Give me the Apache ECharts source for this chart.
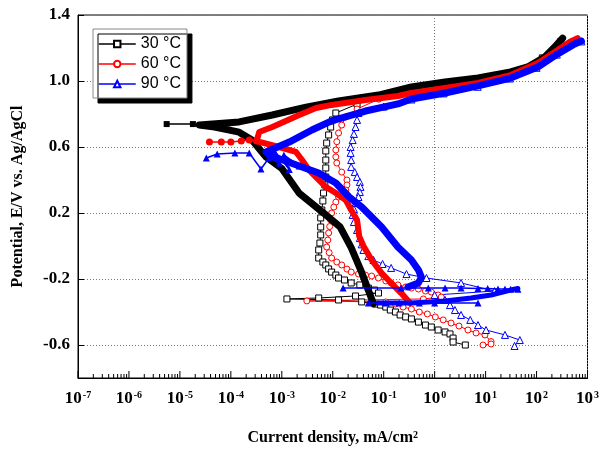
<!DOCTYPE html>
<html><head><meta charset="utf-8">
<script src="https://cdn.jsdelivr.net/npm/echarts@6/dist/echarts.min.js"></script>
<style>html,body{margin:0;padding:0;background:#fff}#c{width:602px;height:452px}</style>
</head><body><div id="c"></div>
<script>
// ---- tick labels ----
const yTicks = [-0.6, -0.2, 0.2, 0.6, 1.0, 1.4];
const xMajor = [1e-7, 1e-6, 1e-5, 1e-4, 1e-3, 1e-2, 1e-1, 1e0, 1e1, 1e2, 1e3];
const xMinor = [];
for (let e = -7; e < 3; e++) for (let m = 2; m <= 9; m++) xMinor.push(m * Math.pow(10, e));
const yMin = -0.8, yMax = 1.4;

const legendNames = ['30 °C', '60 °C', '90 °C'];

// ---- 30 °C (current density mA/cm2, potential V) ----
const black_fwd = [[325,1.26],[227,1.206],[145,1.145],[67,1.085],[31,1.055],[7.1,1.018],[1.6,0.994],[0.35,0.964],[0.079,0.915],[0.013,0.879],[0.003,0.842],[6.5e-4,0.794],[1.45e-4,0.752],[2.4e-5,0.733],[4.8e-5,0.721],[1.45e-4,0.69],[2.6e-4,0.642],[4.9e-4,0.54],[0.001,0.47],[0.0022,0.32],[0.0066,0.2],[0.014,0.115],[0.023,-0.01],[0.037,-0.16],[0.063,-0.35]];
const black_tail = [[4.8e-5,0.727],[3.2e-5,0.733],[1.8e-5,0.739],[5.5e-6,0.739]];
const black_rev = [[300,1.24],[130,1.14],[60,1.075],[28,1.045],[7,1.01],[1.5,0.985],[0.33,0.955],[0.08,0.905],[0.03,0.86],
[0.0115,0.806],[0.0099,0.764],[0.0091,0.721],[0.0083,0.673],[0.0076,0.624],[0.0073,0.576],[0.0073,0.521],[0.0073,0.473],[0.0073,0.418],[0.0070,0.37],[0.0066,0.321],[0.0064,0.273],[0.0061,0.218],[0.0058,0.17],[0.0058,0.115],[0.0058,0.067],[0.0056,0.018],[0.0053,-0.024],[0.0053,-0.073],[0.0064,-0.097],[0.0073,-0.115],[0.0083,-0.139],[0.0095,-0.158],[0.0115,-0.176],[0.013,-0.194],[0.017,-0.206],[0.023,-0.224],[0.034,-0.236],[0.05,-0.255],[0.066,-0.267],[0.079,-0.285],
[0.028,-0.303],[0.0053,-0.315],[0.00126,-0.321],[0.013,-0.327],[0.037,-0.339],
[0.069,-0.352],[0.087,-0.358],[0.11,-0.37],[0.135,-0.388],[0.17,-0.40],[0.21,-0.418],[0.27,-0.43],[0.35,-0.442],[0.48,-0.461],[0.66,-0.479],[0.86,-0.491],[1.17,-0.509],[1.6,-0.521],[2.0,-0.533],[2.3,-0.558],[2.3,-0.582],[4.0,-0.60]];

// ---- 60 °C ----
const red_fwd = [[640,1.26],[445,1.236],[227,1.176],[106,1.109],[31,1.036],[7.1,0.988],[1.6,0.958],[0.35,0.927],[0.19,0.909],[0.044,0.885],[0.0095,0.855],[0.0047,0.836],[0.0022,0.794],[6.5e-4,0.721],[3.6e-4,0.691],[3.2e-4,0.636],[8.8e-4,0.6],[0.0019,0.57],[0.0025,0.521],[0.0034,0.461],[0.0049,0.412],[0.0073,0.358],[0.0115,0.321],[0.018,0.279],[0.023,0.218],[0.03,0.158],[0.033,0.06],[0.04,0.0],[0.058,-0.085],[0.091,-0.164],[0.14,-0.224],[0.22,-0.285],[0.33,-0.345]];
const red_tail = [[3.2e-4,0.636],[2.3e-4,0.642],[1.6e-4,0.636],[1.0e-4,0.63],[6.5e-5,0.63],[3.8e-5,0.63]];
const red_rev = [[640,1.25],[200,1.165],[60,1.07],[25,1.03],[6,0.985],[1.4,0.955],[0.3,0.92],[0.08,0.89],[0.03,0.83],
[0.018,0.782],[0.015,0.733],[0.013,0.685],[0.012,0.632],[0.0115,0.582],[0.0115,0.54],[0.012,0.503],[0.015,0.448],[0.019,0.4],[0.019,0.37],[0.018,0.339],[0.013,0.297],[0.0115,0.266],[0.0105,0.236],[0.0095,0.2],[0.0091,0.158],[0.0087,0.118],[0.0083,0.079],[0.008,0.036],[0.0076,-0.006],[0.0085,-0.04],[0.0095,-0.073],[0.012,-0.097],[0.015,-0.115],[0.019,-0.14],
[0.023,-0.158],[0.032,-0.17],[0.044,-0.176],[0.058,-0.182],[0.079,-0.194],[0.11,-0.212],[0.14,-0.224],[0.19,-0.236],[0.27,-0.248],[0.35,-0.255],[0.48,-0.261],[0.66,-0.273],[0.86,-0.279],[1.17,-0.297],[1.35,-0.309],
[0.6,-0.321],[0.0031,-0.333],[0.11,-0.339],
[0.17,-0.352],[0.24,-0.37],[0.35,-0.382],[0.50,-0.40],[0.72,-0.412],[1.03,-0.43],[1.47,-0.448],[2.1,-0.467],[3.0,-0.485],[4.5,-0.509],[6.5,-0.527],[9.7,-0.539],[12.8,-0.579],[12.8,-0.594],[8.9,-0.60]];

// ---- 90 °C ----
const blue_fwd = [[760,1.242],[560,1.224],[260,1.164],[106,1.085],[31,1.018],[7.1,0.97],[1.6,0.927],[0.35,0.891],[0.19,0.861],[0.044,0.818],[0.0095,0.758],[0.0039,0.703],[0.0014,0.63],[4.9e-4,0.57],[5.6e-4,0.552],[0.0022,0.485],[0.0053,0.442],[0.0115,0.382],[0.021,0.297],[0.037,0.236],[0.091,0.115],[0.19,-0.006],[0.35,-0.085],[0.48,-0.145],[0.55,-0.188],[0.48,-0.224],[0.30,-0.248]];
const blue_fwd_low = [[0.079,-0.345],[0.35,-0.345],[1.6,-0.333],[5.2,-0.315],[12.8,-0.297],[31,-0.267],[43,-0.258]];
const blue_line_upper = [[0.016,-0.255],[0.22,-0.255],[0.75,-0.255],[1.6,-0.255],[3.3,-0.255],[7.1,-0.258],[11,-0.258],[17.5,-0.26],[24,-0.26],[31,-0.262],[43,-0.262]];
const blue_line_lower = [[0.05,-0.345],[0.11,-0.345],[0.2,-0.345],[0.5,-0.345],[1.0,-0.345],[7.1,-0.345]];
const blue_tail = [[3.3e-5,0.533],[5.4e-5,0.558],[1.2e-4,0.564],[2.3e-4,0.564],[3.9e-4,0.467],[5.6e-4,0.533],[8.9e-4,0.503],[7.0e-4,0.582],[0.0014,0.464],[0.0011,0.552],[0.0022,0.485]];
const blue_rev = [[760,1.24],[250,1.16],[100,1.08],[30,1.015],[7,0.965],[1.5,0.925],[0.35,0.888],[0.1,0.845],
[0.032,0.806],[0.030,0.764],[0.028,0.721],[0.026,0.679],[0.0246,0.642],[0.0224,0.6],[0.0224,0.564],[0.023,0.521],[0.023,0.479],[0.027,0.448],[0.03,0.418],[0.034,0.388],[0.035,0.358],[0.034,0.327],[0.032,0.297],[0.028,0.261],[0.026,0.224],[0.0246,0.188],[0.026,0.145],[0.03,0.097],[0.034,0.048],[0.037,0.01],[0.04,-0.024],[0.05,-0.061],[0.063,-0.085],[0.095,-0.109],[0.14,-0.133],[0.28,-0.17],[0.69,-0.194],[3.3,-0.224],[15,-0.273],
[1.0,-0.297],[1.6,-0.327],[2.0,-0.358],[2.5,-0.388],[3.3,-0.418],[5.0,-0.448],[7.1,-0.479],[10.2,-0.509],[24,-0.539],[47,-0.57],[37,-0.606]];

const BLACK = '#000000', RED = '#ff0000', BLUE = '#0000ff';
const SERIF = '"Liberation Serif", "Times New Roman", serif';
const SANS = '"Liberation Sans", Arial, sans-serif';

function rev(name, data, color, symbol, size) {
  return { name, type: 'line', data, symbol, symbolSize: size, showSymbol: true,
    lineStyle: { color, width: 1 }, itemStyle: { color: '#ffffff', borderColor: color, borderWidth: 1 },
    emphasis: { disabled: true }, z: 2 };
}
function thick(name, data, color, w) {
  return { name, type: 'line', data, symbol: 'none', showSymbol: false,
    lineStyle: { color, width: w, cap: 'round', join: 'round' }, itemStyle: { color },
    emphasis: { disabled: true }, z: 3 };
}
function thin(name, data, color, symbol, size) {
  return { name, type: 'line', data, symbol, symbolSize: size, showSymbol: true,
    lineStyle: { color, width: 1.5 }, itemStyle: { color, borderColor: color, borderWidth: 0 },
    emphasis: { disabled: true }, z: 4 };
}
// tick marks drawn through the axis scale (minor log ticks and decade ticks, on top of the dotted grid)
function tickSeries(values, len) {
  return { type: 'custom', silent: true, z: 5, clip: false,
    data: values.map(v => [v, yMin]),
    renderItem: (params, api) => {
      const p = api.coord([api.value(0), api.value(1)]);
      return { type: 'line', shape: { x1: p[0], y1: p[1], x2: p[0], y2: p[1] - len },
        style: { stroke: '#000', lineWidth: 1 } };
    } };
}

const labelFont = { fontFamily: SERIF, fontWeight: 'bold', color: '#000' };

const option = {
  animation: false,
  backgroundColor: '#ffffff',
  grid: { left: 78, right: 12, top: 15, bottom: 74, show: true, borderColor: '#000', borderWidth: 1, containLabel: false },
  legend: {
    data: legendNames, orient: 'vertical', left: 93, top: 29,
    padding: [7, 6, 6, 5], itemGap: 4, itemWidth: 37, itemHeight: 8,
    backgroundColor: '#ffffff', borderColor: '#888', borderWidth: 1,
    shadowColor: '#000', shadowOffsetX: 5, shadowOffsetY: 5, shadowBlur: 0,
    textStyle: { fontFamily: SANS, fontSize: 16, color: '#000' },
    lineStyle: { width: 1.5 }
  },
  xAxis: {
    type: 'log', logBase: 10, min: 1e-7, max: 1e3, position: 'bottom',
    axisLine: { show: true, onZero: false, lineStyle: { color: '#000', width: 1 } },
    axisTick: { show: false },
    axisLabel: { margin: 12, customValues: xMajor,
      formatter: v => '{b|10}{s|' + Math.round(Math.log10(v)) + '}',
      rich: { b: Object.assign({ fontSize: 17 }, labelFont), s: Object.assign({ fontSize: 10, verticalAlign: 'top', padding: [0, 0, 0, 1] }, labelFont) } },
    splitLine: { show: true, lineStyle: { color: '#777', type: [1, 2], width: 1 } },
    name: 'Current density, mA/cm{s|2}', nameLocation: 'middle', nameGap: 52,
    nameTextStyle: Object.assign({ fontSize: 16, rich: { s: Object.assign({ fontSize: 10, verticalAlign: 'top' }, labelFont) } }, labelFont)
  },
  yAxis: {
    type: 'value', min: yMin, max: yMax,
    axisLine: { show: true, onZero: false, lineStyle: { color: '#000', width: 1 } },
    axisTick: { show: true, inside: true, length: 6, customValues: yTicks, lineStyle: { color: '#000' } },
    axisLabel: Object.assign({ fontSize: 17, margin: 8, customValues: yTicks, formatter: v => v.toFixed(1) }, labelFont),
    splitLine: { show: true, lineStyle: { color: '#777', type: [1, 2], width: 1 } },
    name: 'Potential, E/V vs. Ag/AgCl', nameLocation: 'middle', nameGap: 52,
    nameTextStyle: Object.assign({ fontSize: 16 }, labelFont)
  },
  series: [
    rev('30 °C', black_rev, BLACK, 'rect', 6),
    thick('30 °C', black_fwd, BLACK, 7),
    thin('30 °C', black_tail, BLACK, 'rect', 6),
    rev('60 °C', red_rev, RED, 'circle', 6),
    thick('60 °C', red_fwd, RED, 6),
    thin('60 °C', red_tail, RED, 'circle', 7),
    rev('90 °C', blue_rev, BLUE, 'triangle', 7),
    thick('90 °C', blue_fwd, BLUE, 7),
    thick('90 °C', blue_fwd_low, BLUE, 5),
    thin('90 °C', blue_line_upper, BLUE, 'triangle', 7),
    thin('90 °C', blue_line_lower, BLUE, 'triangle', 7),
    thin('90 °C', blue_tail, BLUE, 'triangle', 7),
    tickSeries(xMinor, 4),
    tickSeries(xMajor, 7)
  ]
};
echarts.init(document.getElementById('c'), null, { renderer: 'canvas' }).setOption(option);
</script></body></html>
